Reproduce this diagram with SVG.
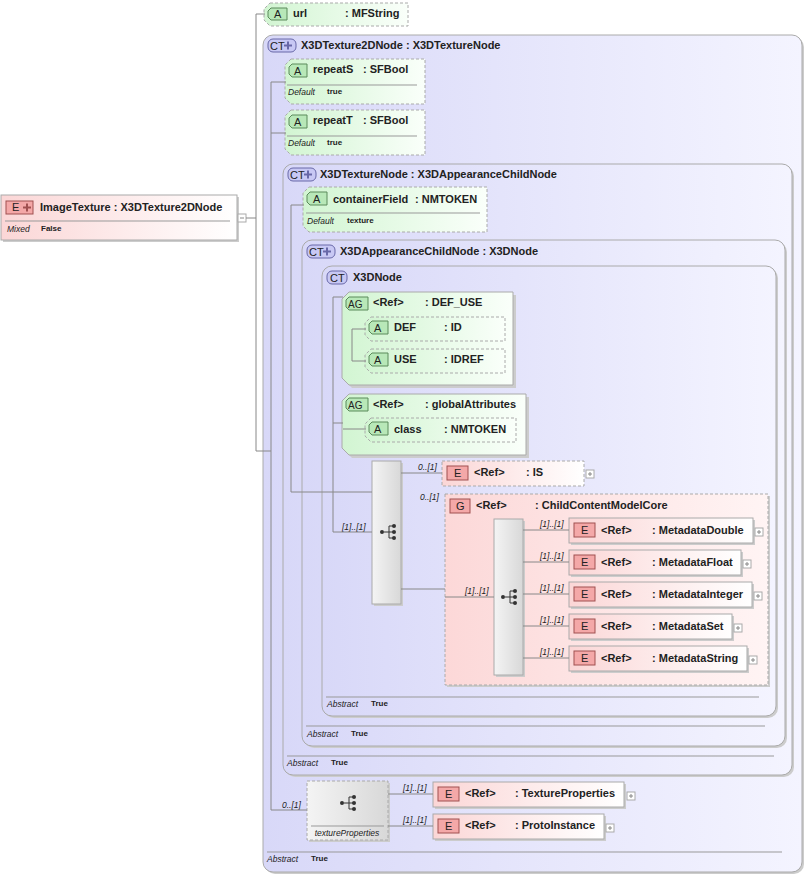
<svg xmlns="http://www.w3.org/2000/svg" width="805" height="875" viewBox="0 0 805 875">
<defs>
<linearGradient id="gP" x1="0" y1="0" x2="1" y2="0"><stop offset="0" stop-color="#fbd6d6"/><stop offset="1" stop-color="#ffffff"/></linearGradient>
<linearGradient id="gG" x1="0" y1="0" x2="1" y2="0"><stop offset="0" stop-color="#d2f5d2"/><stop offset="1" stop-color="#fafffa"/></linearGradient>
<linearGradient id="gL" x1="0" y1="0" x2="1" y2="0"><stop offset="0" stop-color="#d8d8f8"/><stop offset="1" stop-color="#f4f4ff"/></linearGradient>
<linearGradient id="gS" x1="0" y1="0" x2="1" y2="0"><stop offset="0" stop-color="#f4f4f4"/><stop offset="1" stop-color="#d8d8d8"/></linearGradient>
<linearGradient id="gGp" x1="0" y1="0" x2="1" y2="0"><stop offset="0" stop-color="#fcd8d8"/><stop offset="1" stop-color="#fff4f4"/></linearGradient>
<g id="seqIcon"><circle cx="-7" cy="0" r="2" fill="#333"/><path d="M-5 0H0M0-6V6M0-6H4M0 0H4M0 6H4" stroke="#333" fill="none"/><circle cx="5" cy="-6" r="2" fill="#333"/><circle cx="5" cy="0" r="2" fill="#333"/><circle cx="5" cy="6" r="2" fill="#333"/></g>
<g id="plus"><rect x="0" y="0" width="8" height="8" fill="#fff" stroke="#aaa"/><path d="M2 4H6M4 2V6" stroke="#888"/></g>
</defs>
<style>
text{font-family:"Liberation Sans",Arial,sans-serif;font-size:11px;font-weight:bold;fill:#222}
.sm{font-size:8px}
.it{font-size:8.5px;font-style:italic;font-weight:normal}
.card{font-size:8.5px;font-style:italic;font-weight:normal}
.ln{stroke:#888;fill:none}
.pan{fill:url(#gL);stroke:#aaa;stroke-width:1}
.att{fill:url(#gG);stroke:#aaa;stroke-dasharray:3,2}
.ag{fill:url(#gG);stroke:#aaa}
.el{fill:url(#gP);stroke:#aaa}
.eld{fill:url(#gP);stroke:#aaa;stroke-dasharray:3,2}
.div{stroke:#999}
.bA{fill:#b8e8b8;stroke:#5a8a5a}
.bE{fill:#f4a8a8;stroke:#a05050}
.bC{fill:#c8c8f4;stroke:#6868a8}
.seq{fill:url(#gS);stroke:#aaa}
.sh{fill:#ccc}
</style>

<g id="ImageTexture">
<rect x="3" y="197" width="236" height="45" class="sh"/>
<rect x="1" y="195" width="236" height="45" class="el"/>
<rect x="6" y="201" width="27" height="13" class="bE"/>
<text x="12" y="211" style="font-weight:normal">E</text><path d="M23 207.5H31M27 203.5V211.5" stroke="#a05050" stroke-width="2"/>
<text x="40" y="211">ImageTexture : X3DTexture2DNode</text>
<line x1="5" y1="221" x2="230" y2="221" class="div"/>
<text x="7" y="232" class="it">Mixed</text><text x="41" y="231" class="sm">False</text>
<rect x="238" y="214" width="8" height="8" fill="#fff" stroke="#aaa"/><path d="M240 218H244" stroke="#888"/>
</g>

<g id="url">
<path d="M270 3H408V26H270L264 20V9Z" class="att"/>
<path d="M271 8H287V20H271L268 17V11Z" class="bA"/><text x="274" y="18" style="font-weight:normal">A</text>
<text x="293" y="17">url</text><text x="345" y="17">: MFString</text>
</g>

<g id="X3DTexture2DNode">
<rect x="265" y="37" width="539" height="837" rx="10" class="sh"/>
<rect x="263" y="35" width="539" height="837" rx="10" class="pan"/>
<rect x="268" y="39" width="28" height="13" rx="5" class="bC"/><text x="270" y="50" style="font-weight:normal">CT</text><path d="M284 45.5H292M288 41.5V49.5" stroke="#6868a8" stroke-width="2"/>
<text x="301" y="49">X3DTexture2DNode : X3DTextureNode</text>
<line x1="267" y1="852" x2="782" y2="852" class="div"/>
<text x="267" y="862" class="it">Abstract</text><text x="311" y="861" class="sm">True</text>
</g>

<g id="repeatS">
<path d="M291 59H425V104H291L285 98V65Z" class="att"/>
<path d="M292 64H307V77H292L289 74V67Z" class="bA"/><text x="294" y="75" style="font-weight:normal">A</text>
<text x="313" y="73">repeatS</text><text x="363" y="73">: SFBool</text>
<line x1="287" y1="85" x2="417" y2="85" class="div"/>
<text x="288" y="95" class="it">Default</text><text x="327" y="94" class="sm">true</text>
</g>
<g id="repeatT">
<path d="M291 110H425V155H291L285 149V116Z" class="att"/>
<path d="M292 115H307V128H292L289 125V118Z" class="bA"/><text x="294" y="126" style="font-weight:normal">A</text>
<text x="313" y="124">repeatT</text><text x="363" y="124">: SFBool</text>
<line x1="287" y1="136" x2="417" y2="136" class="div"/>
<text x="288" y="146" class="it">Default</text><text x="327" y="145" class="sm">true</text>
</g>

<g id="X3DTextureNode">
<rect x="285" y="166" width="509" height="611" rx="10" class="sh"/>
<rect x="283" y="164" width="509" height="611" rx="10" class="pan"/>
<rect x="288" y="168" width="28" height="13" rx="5" class="bC"/><text x="290" y="179" style="font-weight:normal">CT</text><path d="M304 174.5H312M308 170.5V178.5" stroke="#6868a8" stroke-width="2"/>
<text x="320" y="178">X3DTextureNode : X3DAppearanceChildNode</text>
<line x1="287" y1="756" x2="774" y2="756" class="div"/>
<text x="287" y="766" class="it">Abstract</text><text x="331" y="765" class="sm">True</text>
</g>

<g id="containerField">
<path d="M309 187H487V232H309L303 226V193Z" class="att"/>
<path d="M310 192H327V205H310L307 202V195Z" class="bA"/><text x="313" y="203" style="font-weight:normal">A</text>
<text x="333" y="203">containerField</text><text x="415" y="203">: NMTOKEN</text>
<line x1="306" y1="213" x2="480" y2="213" class="div"/>
<text x="307" y="224" class="it">Default</text><text x="347" y="223" class="sm">texture</text>
</g>

<g id="X3DAppearanceChildNode">
<rect x="304" y="242" width="483" height="506" rx="10" class="sh"/>
<rect x="302" y="240" width="483" height="506" rx="10" class="pan"/>
<rect x="307" y="245" width="28" height="13" rx="5" class="bC"/><text x="309" y="256" style="font-weight:normal">CT</text><path d="M323 251.5H331M327 247.5V255.5" stroke="#6868a8" stroke-width="2"/>
<text x="340" y="255">X3DAppearanceChildNode : X3DNode</text>
<line x1="306" y1="726" x2="765" y2="726" class="div"/>
<text x="307" y="737" class="it">Abstract</text><text x="351" y="736" class="sm">True</text>
</g>

<g id="X3DNode">
<rect x="324" y="268" width="454" height="450" rx="10" class="sh"/>
<rect x="322" y="266" width="454" height="450" rx="10" class="pan"/>
<rect x="327" y="271" width="20" height="13" rx="5" class="bC"/><text x="330" y="282" style="font-weight:normal">CT</text>
<text x="353" y="281">X3DNode</text>
<line x1="326" y1="697" x2="759" y2="697" class="div"/>
<text x="327" y="707" class="it">Abstract</text><text x="371" y="706" class="sm">True</text>
</g>

<g id="DEF_USE">
<path d="M352 295H516V388H352L345 381V302Z" class="sh"/>
<path d="M349 292H513V385H349L342 378V299Z" class="ag"/>
<path d="M349 297H368V310H349L346 307V300Z" class="bA"/><text x="348" y="308" style="font-weight:normal;font-size:10px">AG</text>
<text x="373" y="306">&lt;Ref&gt;</text><text x="425" y="306">: DEF_USE</text>
</g>
<g id="DEF">
<path d="M371 317H505V341H371L365 335V323Z" class="att"/>
<path d="M372 321H388V334H372L369 331V324Z" class="bA"/><text x="374" y="332" style="font-weight:normal">A</text>
<text x="394" y="331">DEF</text><text x="444" y="331">: ID</text>
</g>
<g id="USE">
<path d="M371 349H505V373H371L365 367V355Z" class="att"/>
<path d="M372 353H388V366H372L369 363V356Z" class="bA"/><text x="374" y="364" style="font-weight:normal">A</text>
<text x="394" y="363">USE</text><text x="444" y="363">: IDREF</text>
</g>

<g id="globalAttributes">
<path d="M352 397H529V458H352L345 451V404Z" class="sh"/>
<path d="M349 394H526V455H349L342 448V401Z" class="ag"/>
<path d="M349 398H368V411H349L346 408V401Z" class="bA"/><text x="348" y="409" style="font-weight:normal;font-size:10px">AG</text>
<text x="373" y="408">&lt;Ref&gt;</text><text x="425" y="408">: globalAttributes</text>
</g>
<g id="class">
<path d="M371 418H516V442H371L365 436V424Z" class="att"/>
<path d="M372 422H388V435H372L369 432V425Z" class="bA"/><text x="374" y="433" style="font-weight:normal">A</text>
<text x="394" y="433">class</text><text x="444" y="433">: NMTOKEN</text>
</g>

<g id="seq1">
<rect x="374" y="463" width="29" height="143" class="sh"/>
<rect x="372" y="461" width="29" height="143" class="seq"/>
<use href="#seqIcon" x="389" y="532"/>
<text x="342" y="530" class="card">[1]..[1]</text>
</g>

<g id="IS">
<rect x="442" y="461" width="142" height="25" class="eld"/>
<rect x="447" y="466" width="21" height="14" class="bE"/><text x="454" y="477" style="font-weight:normal">E</text>
<text x="474" y="476">&lt;Ref&gt;</text><text x="526" y="476">: IS</text>
<use href="#plus" x="586" y="470"/>
<text x="418" y="470" class="card">0..[1]</text>
</g>

<g id="ChildContentModelCore">
<rect x="447" y="496" width="323" height="191" class="sh"/>
<rect x="445" y="494" width="323" height="191" fill="url(#gGp)" stroke="#aaa" stroke-dasharray="3,2"/>
<rect x="450" y="499" width="20" height="14" class="bE"/><text x="456" y="510" style="font-weight:normal">G</text>
<text x="476" y="509">&lt;Ref&gt;</text><text x="535" y="509">: ChildContentModelCore</text>
<text x="420" y="500" class="card">0..[1]</text>
</g>

<g id="seq2">
<rect x="496" y="521" width="29" height="156" class="sh"/>
<rect x="494" y="519" width="29" height="156" class="seq"/>
<use href="#seqIcon" x="510" y="597"/>
<text x="465" y="594" class="card">[1]..[1]</text>
</g>

<g id="MetadataDouble">
<rect x="571" y="520" width="184" height="25" class="sh"/>
<rect x="569" y="518" width="184" height="25" class="el"/>
<rect x="574" y="523" width="21" height="14" class="bE"/><text x="581" y="534" style="font-weight:normal">E</text>
<text x="601" y="534">&lt;Ref&gt;</text><text x="652" y="534">: MetadataDouble</text>
<use href="#plus" x="755" y="528"/><text x="540" y="527" class="card">[1]..[1]</text>
</g>
<g id="MetadataFloat">
<rect x="571" y="552" width="172" height="25" class="sh"/>
<rect x="569" y="550" width="172" height="25" class="el"/>
<rect x="574" y="555" width="21" height="14" class="bE"/><text x="581" y="566" style="font-weight:normal">E</text>
<text x="601" y="566">&lt;Ref&gt;</text><text x="652" y="566">: MetadataFloat</text>
<use href="#plus" x="743" y="560"/><text x="540" y="559" class="card">[1]..[1]</text>
</g>
<g id="MetadataInteger">
<rect x="571" y="584" width="183" height="25" class="sh"/>
<rect x="569" y="582" width="183" height="25" class="el"/>
<rect x="574" y="587" width="21" height="14" class="bE"/><text x="581" y="598" style="font-weight:normal">E</text>
<text x="601" y="598">&lt;Ref&gt;</text><text x="652" y="598">: MetadataInteger</text>
<use href="#plus" x="754" y="592"/><text x="540" y="591" class="card">[1]..[1]</text>
</g>
<g id="MetadataSet">
<rect x="571" y="616" width="163" height="25" class="sh"/>
<rect x="569" y="614" width="163" height="25" class="el"/>
<rect x="574" y="619" width="21" height="14" class="bE"/><text x="581" y="630" style="font-weight:normal">E</text>
<text x="601" y="630">&lt;Ref&gt;</text><text x="652" y="630">: MetadataSet</text>
<use href="#plus" x="734" y="624"/><text x="540" y="623" class="card">[1]..[1]</text>
</g>
<g id="MetadataString">
<rect x="571" y="648" width="178" height="25" class="sh"/>
<rect x="569" y="646" width="178" height="25" class="el"/>
<rect x="574" y="651" width="21" height="14" class="bE"/><text x="581" y="662" style="font-weight:normal">E</text>
<text x="601" y="662">&lt;Ref&gt;</text><text x="652" y="662">: MetadataString</text>
<use href="#plus" x="749" y="656"/><text x="540" y="655" class="card">[1]..[1]</text>
</g>

<g id="textureProperties">
<rect x="309" y="783" width="81" height="59" class="sh"/>
<rect x="307" y="781" width="81" height="59" fill="url(#gS)" stroke="#aaa" stroke-dasharray="3,2"/>
<use href="#seqIcon" x="349" y="803"/>
<line x1="311" y1="826" x2="384" y2="826" class="div"/>
<text x="347" y="836" class="card" text-anchor="middle">textureProperties</text>
<text x="282" y="808" class="card">0..[1]</text>
</g>

<g id="TextureProperties">
<rect x="435" y="784" width="191" height="25" class="sh"/>
<rect x="433" y="782" width="191" height="25" class="el"/>
<rect x="438" y="787" width="21" height="14" class="bE"/><text x="445" y="798" style="font-weight:normal">E</text>
<text x="465" y="797">&lt;Ref&gt;</text><text x="515" y="797">: TextureProperties</text>
<use href="#plus" x="627" y="792"/><text x="403" y="791" class="card">[1]..[1]</text>
</g>
<g id="ProtoInstance">
<rect x="435" y="816" width="171" height="25" class="sh"/>
<rect x="433" y="814" width="171" height="25" class="el"/>
<rect x="438" y="819" width="21" height="14" class="bE"/><text x="445" y="830" style="font-weight:normal">E</text>
<text x="465" y="829">&lt;Ref&gt;</text><text x="515" y="829">: ProtoInstance</text>
<use href="#plus" x="606" y="824"/><text x="403" y="823" class="card">[1]..[1]</text>
</g>

<g id="connectors" class="ln">
<path d="M246 218H256M256 14V451M256 14H265M256 451H271"/>
<path d="M271 82V810M271 82H286M271 133H286M271 810H307"/>
<path d="M291 205V492M291 205H304M291 492H372"/>
<path d="M333 297V532M333 297H343M333 423H343M333 532H372"/>
<path d="M352 329V361M352 329H366M352 361H366M343 429H366"/>
<path d="M401 473H442M401 589H445M445 597H494"/>
<path d="M523 530H569M523 562H569M523 594H569M523 626H569M523 658H569"/>
<path d="M388 794H433M388 826H433"/>
</g>
</svg>
